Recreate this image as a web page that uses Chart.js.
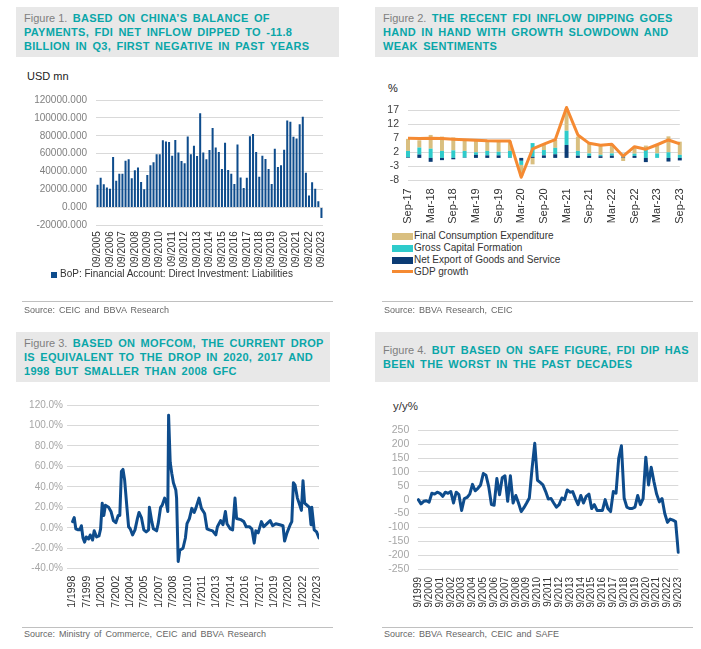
<!DOCTYPE html>
<html lang="en">
<head>
<meta charset="UTF-8">
<title>China FDI charts</title>
<script src="https://cdn.jsdelivr.net/npm/chart.js"></script>
<style>
  body { margin: 0; background: #fff; font-family: "Liberation Sans", Arial, sans-serif; }
  #page { position: relative; width: 701px; height: 649px; overflow: hidden; }
  .title { position: absolute; height: 50px; background: #e8e8e8; box-sizing: border-box; padding-left: 8px;
           display: flex; align-items: center; font-size: 11px; line-height: 14px; }
  .title .txt { color: #0aa6a8; font-weight: bold; letter-spacing: 0.3px; word-spacing: 2px; white-space: nowrap; }
  .title .fig { color: #7f7f7f; font-weight: normal; letter-spacing: 0; word-spacing: 0; }
  .box { position: absolute; }
  .unit { position: absolute; font-size: 11px; line-height: 13px; color: #222; white-space: nowrap; }
  .rule { position: absolute; height: 0; border-top: 1px solid #c0c0c0; }
  .source { position: absolute; font-size: 9px; line-height: 11px; color: #666; word-spacing: 1.5px; white-space: nowrap; }
  .legend { position: absolute; font-size: 10px; line-height: 12px; color: #333; white-space: nowrap; }
  .sw { position: absolute; }
</style>
</head>
<body>
<div id="page">
  <!-- Figure 1 -->
  <div class="title" style="left:16px;top:7px;width:323px">
    <div class="txt"><span class="fig">Figure 1.</span> BASED ON CHINA’S BALANCE OF<br>PAYMENTS, FDI NET INFLOW DIPPED TO -11.8<br>BILLION IN Q3, FIRST NEGATIVE IN PAST YEARS</div>
  </div>
  <div class="unit" style="left:27px;top:70px">USD mn</div>
  <div class="box" style="left:0;top:85px;width:340px;height:191px"><canvas id="c1"></canvas></div>
  <div class="sw" style="left:51px;top:272px;width:6px;height:6px;background:#0e4c8c"></div>
  <div class="legend" style="left:60px;top:268px">BoP: Financial Account: Direct Investment: Liabilities</div>
  <div class="rule" style="left:22px;top:301px;width:311px"></div>
  <div class="source" style="left:24px;top:305px">Source: CEIC and BBVA Research</div>

  <!-- Figure 2 -->
  <div class="title" style="left:375px;top:7px;width:323px">
    <div class="txt"><span class="fig">Figure 2.</span> THE RECENT FDI INFLOW DIPPING GOES<br>HAND IN HAND WITH GROWTH SLOWDOWN AND<br>WEAK SENTIMENTS</div>
  </div>
  <div class="unit" style="left:388px;top:82px">%</div>
  <div class="box" style="left:350px;top:95px;width:351px;height:135px"><canvas id="c2"></canvas></div>
  <div class="sw" style="left:392px;top:233px;width:21px;height:7px;background:#d9bf80"></div>
  <div class="legend" style="left:414px;top:230px">Final Consumption Expenditure</div>
  <div class="sw" style="left:392px;top:245px;width:21px;height:7px;background:#2ecbcb"></div>
  <div class="legend" style="left:414px;top:242px">Gross Capital Formation</div>
  <div class="sw" style="left:392px;top:257px;width:21px;height:7px;background:#0b3b74"></div>
  <div class="legend" style="left:414px;top:254px">Net Export of Goods and Service</div>
  <div class="sw" style="left:392px;top:270px;width:21px;height:3px;background:#f58a32"></div>
  <div class="legend" style="left:414px;top:266px">GDP growth</div>
  <div class="rule" style="left:382px;top:301px;width:311px"></div>
  <div class="source" style="left:384px;top:305px">Source: BBVA Research, CEIC</div>

  <!-- Figure 3 -->
  <div class="title" style="left:16px;top:332px;width:314px">
    <div class="txt"><span class="fig">Figure 3.</span> BASED ON MOFCOM, THE CURRENT DROP<br>IS EQUIVALENT TO THE DROP IN 2020, 2017 AND<br>1998 BUT SMALLER THAN 2008 GFC</div>
  </div>
  <div class="box" style="left:0;top:395px;width:340px;height:225px"><canvas id="c3"></canvas></div>
  <div class="rule" style="left:22px;top:627px;width:311px"></div>
  <div class="source" style="left:24px;top:629px">Source: Ministry of Commerce, CEIC and BBVA Research</div>

  <!-- Figure 4 -->
  <div class="title" style="left:375px;top:332px;width:323px">
    <div class="txt"><span class="fig">Figure 4.</span> BUT BASED ON SAFE FIGURE, FDI DIP HAS<br>BEEN THE WORST IN THE PAST DECADES</div>
  </div>
  <div class="unit" style="left:393px;top:400px;font-size:11.5px;color:#333">y/y%</div>
  <div class="box" style="left:350px;top:415px;width:351px;height:205px"><canvas id="c4"></canvas></div>
  <div class="rule" style="left:382px;top:627px;width:311px"></div>
  <div class="source" style="left:384px;top:629px">Source: BBVA Research, CEIC and SAFE</div>
</div>

<script>
// ---- Figure 1: BoP FDI liabilities, quarterly, USD mn ----
const fig1Start = 2005;   // first quarter is 09/2005
const fig1Values = [
  25300, 33100, 26000, 22200, 20800, 56300, 29900, 37700, 37700, 52100,
  53900, 32700, 41500, 44700, 28500, 20400, 36300, 47200, 50400, 59500,
  59500, 75000, 73600, 73200, 57700, 75400, 61300, 51800, 49300, 79200,
  59500, 69000, 57400, 105300, 61300, 53900, 64100, 88700, 66900, 62000,
  43000, 72200, 41900, 37700, 26100, 70400, 33500, 21800, 33100, 79600,
  82000, 62000, 34200, 57700, 54200, 43000, 26100, 65500, 45100, 47200,
  64400, 97200, 95800, 78900, 77100, 93000, 101400, 38700, 13400, 28200,
  20800, 7000, -11800
];

// ---- Figure 2: contributions to GDP growth, pp ----
const fig2Consumption = [4.3, 2.6, 4.9, 5.1, 4.6, 3.8, 4.1, 3.3, 3.5, 3.4, -4.0, -2.3, 2.1,
                         2.8, 7.9, 5.1, 3.6, 3.3, 3.2, -1.1, 2.5, 0.8, 2.9, 5.7, 4.7];
const fig2Capital     = [2.3, 2.5, 3.3, 2.5, 2.7, 2.4, 0.9, 1.6, 1.3, 2.4, -1.5, 4.9, 1.9,
                         2.3, 5.1, 1.7, 0.9, 0.5, 0.8, 1.3, 0.8, 3.6, 1.6, 2.0, 1.1];
const fig2NetExport   = [0.2, 1.2, -1.4, -0.8, -0.5, 0.1, 1.1, 0.9, 0.9, 0.1, -1.0, 0.4, 0.9,
                         1.3, 4.6, 0.8, 0.7, 0.6, 0.8, 0.2, 0.7, -1.5, 0.0, -1.3, -0.9];
const fig2Gdp         = [7.0, 6.9, 7.0, 6.9, 6.7, 6.5, 6.3, 6.1, 6.0, 6.0, -6.9, 3.2, 4.9,
                         6.5, 18.0, 8.2, 5.2, 4.5, 4.9, 0.6, 4.0, 3.1, 4.7, 6.4, 5.0];
const fig2YTicks = [17, 12, 7, 2, -3, -8];

// ---- Figure 3: MOFCOM FDI, ytd y/y % ----
const fig3Dates = [
  '1998-01','1998-03','1998-05','1998-08','1998-10','1998-12','1999-02','1999-04','1999-06','1999-09',
  '1999-11','2000-02','2000-04','2000-07','2000-10','2000-12','2001-02','2001-04','2001-06','2001-10',
  '2002-01','2002-04','2002-07','2002-10','2002-12','2003-02','2003-04','2003-06','2003-09','2003-11',
  '2004-01','2004-04','2004-07','2004-10','2004-12','2005-03','2005-06','2005-09','2005-12','2006-01',
  '2006-04','2006-06','2006-10','2006-12','2007-03','2007-05','2007-08','2007-10','2007-12','2008-01',
  '2008-03','2008-05','2008-07','2008-10','2008-11','2009-01','2009-03','2009-07','2009-10','2009-12',
  '2010-03','2010-06','2010-09','2010-11','2011-03','2011-06','2011-10','2012-01','2012-04','2012-08',
  '2012-12','2013-02','2013-06','2013-09','2013-12','2014-02','2014-06','2014-09','2014-12','2015-02',
  '2015-07','2015-11','2016-02','2016-06','2016-09','2016-12','2017-02','2017-05','2017-09','2017-12',
  '2018-04','2018-08','2018-11','2019-03','2019-08','2019-12','2020-02','2020-05','2020-09','2020-11',
  '2021-01','2021-03','2021-06','2021-09','2021-11','2022-01','2022-03','2022-06','2022-09','2022-11',
  '2022-12','2023-03','2023-06','2023-09'
];
const fig3Values = [
  6, 10, -1, -2, -2, 2, -10, -14, -9, -11,
  -7, -12, -3, -9, -8, -1, 24, 12, 22, 20,
  16, 7, 5, 12, 12, 55, 57, 47, 19, 1,
  -1, -7, -2, 9, 15, 10, -2, -4, -2, 20,
  6, -1, -3, 4, 20, 22, 29, 25, 16, 110,
  64, 53, 44, 37, 29, -33, -22, -20, -10, 4,
  9, 19, 15, 19, 29, 19, 14, -1, -2, -3,
  -7, 1, 7, 3, 16, 4, -1, -2, 29, 9,
  8, 6, 1, 1, -1, -15, -3, -5, 6, 1,
  4, 7, 2, 4, 3, 2, -13, -5, 3, 6,
  44, 42, 29, 22, 17, 46, 24, 22, 20, 3,
  20, -2, -4, -10
];
const fig3TickLabels = ['1/1998','7/1999','1/2001','7/2002','1/2004','7/2005','1/2007','7/2008','1/2010',
                        '7/2011','1/2013','7/2014','1/2016','7/2017','1/2019','7/2020','1/2022','7/2023'];

// ---- Figure 4: SAFE FDI, y/y % quarterly ----
const fig4Start = 1999;   // first quarter is 9/1999
const fig4Values = [
  0, -15, -6, -4, -9, 23, 20, 27, 23, 12,
  27, 23, 29, -12, 27, 18, -39, 4, 8, 20,
  55, 32, 41, 53, 94, 88, 47, -18, -20, 76,
  18, 79, 86, -6, 86, -12, 15, -12, -43, -29,
  -12, 6, 112, 203, 70, 62, 53, 30, 2, 4,
  -12, -27, -18, 6, 0, 35, 27, 29, 4, -18,
  15, -12, 12, 20, -32, -18, -39, -39, -39, 0,
  -32, -43, 29, 23, 149, 194, 6, -27, -32, -32,
  -27, 15, -18, 4, 153, 53, 117, 65, 20, -8,
  4, -50, -82, -70, -74, -79, -190
];

const NAVY = '#0e4c8c';
const GRID = '#d9d9d9';

Chart.defaults.font.family = '"Liberation Sans", Arial, sans-serif';
Chart.defaults.animation = false;

// quarter labels starting at September of startYear
function quarterLabels(startYear, count, fmt) {
  const out = [];
  const months = [9, 12, 3, 6];
  for (let k = 0; k < count; k++) {
    out.push(fmt(months[k % 4], startYear + Math.floor((k + 2) / 4)));
  }
  return out;
}
function monthIndex(y, m) { return (y - 1998) * 12 + (m - 1); }

const fig1Labels = quarterLabels(fig1Start, fig1Values.length,
  (m, y) => String(m).padStart(2, '0') + '/' + y);
const fig2Labels = quarterLabels(2017, fig2Gdp.length,
  (m, y) => ['', '', '', 'Mar', '', '', 'Jun', '', '', 'Sep', '', '', 'Dec'][m] + '-' + String(y).slice(2));
const fig4Labels = quarterLabels(fig4Start, fig4Values.length, (m, y) => m + '/' + y);

const noPlugins = { legend: { display: false }, tooltip: { enabled: false } };
const everyNth = n => function (v, i) { return i % n === 0 ? this.getLabelForValue(v) : ''; };

// Figure 1
new Chart(document.getElementById('c1'), {
  type: 'bar',
  data: {
    labels: fig1Labels,
    datasets: [{ data: fig1Values, backgroundColor: NAVY, barPercentage: 0.65, categoryPercentage: 1 }]
  },
  options: {
    responsive: true, maintainAspectRatio: false,
    layout: { padding: { left: 0, right: 17, top: 8.3, bottom: 0 } },
    plugins: noPlugins,
    scales: {
      x: {
        grid: { display: false, drawTicks: false }, border: { display: false },
        ticks: { autoSkip: false, minRotation: 90, maxRotation: 90, padding: 6, color: '#333',
                 font: { size: 10 }, callback: everyNth(4) },
        afterFit: s => { s.height = 50.7; }
      },
      y: {
        min: -20000, max: 120000,
        ticks: { stepSize: 20000, autoSkip: false, padding: 9, color: '#7f7f7f', font: { size: 10 },
                 callback: v => v.toFixed(3) },
        grid: { color: GRID, drawTicks: false }, border: { display: false },
        afterFit: s => { s.width = 96; }
      }
    }
  }
});

// Figure 2
new Chart(document.getElementById('c2'), {
  data: {
    labels: fig2Labels,
    datasets: [
      { type: 'line', data: fig2Gdp, borderColor: '#f58a32', borderWidth: 3, pointRadius: 0,
        order: 0, stack: 'gdp', clip: false, borderJoinStyle: 'round' },
      { type: 'bar', data: fig2NetExport, backgroundColor: '#0b3b74', order: 1, clip: false,
        barPercentage: 0.35, categoryPercentage: 1 },
      { type: 'bar', data: fig2Capital, backgroundColor: '#2ecbcb', order: 1, clip: false,
        barPercentage: 0.35, categoryPercentage: 1 },
      { type: 'bar', data: fig2Consumption, backgroundColor: '#d9bf80', order: 1, clip: false,
        barPercentage: 0.35, categoryPercentage: 1 }
    ]
  },
  options: {
    responsive: true, maintainAspectRatio: false,
    layout: { padding: { left: 0, right: 18, top: 7.7, bottom: 0 } },
    plugins: noPlugins,
    scales: {
      x: {
        stacked: true, offset: false,
        grid: { display: false, drawTicks: false }, border: { display: false },
        ticks: { autoSkip: false, minRotation: 90, maxRotation: 90, padding: 8, color: '#333',
                 font: { size: 11 }, callback: everyNth(2) },
        afterFit: s => { s.height = 49.7; }
      },
      y: {
        stacked: true, min: -8, max: 17,
        afterBuildTicks: s => { s.ticks = fig2YTicks.map(v => ({ value: v })); },
        ticks: { autoSkip: false, padding: 9, color: '#404040', font: { size: 10.5 } },
        grid: { color: GRID, drawTicks: false }, border: { display: false },
        afterFit: s => { s.width = 58; }
      }
    }
  }
});

// Figure 3
const fig3Points = fig3Dates.map((d, i) => {
  const [y, m] = d.split('-').map(Number);
  return { x: monthIndex(y, m), y: fig3Values[i] };
});
const fig3TickMonths = fig3TickLabels.map(t => {
  const [m, y] = t.split('/').map(Number);
  return monthIndex(y, m);
});
new Chart(document.getElementById('c3'), {
  type: 'line',
  data: {
    datasets: [{ data: fig3Points, borderColor: NAVY, borderWidth: 3, pointRadius: 0,
                 borderJoinStyle: 'round', borderCapStyle: 'round' }]
  },
  options: {
    responsive: true, maintainAspectRatio: false,
    layout: { padding: { left: 0, right: 21, top: 9.7, bottom: 0 } },
    plugins: noPlugins,
    scales: {
      x: {
        type: 'linear', min: -7, max: 308,
        afterBuildTicks: s => { s.ticks = fig3TickMonths.map(v => ({ value: v })); },
        grid: { display: false, drawTicks: false }, border: { display: false },
        ticks: { autoSkip: false, minRotation: 90, maxRotation: 90, padding: 7, color: '#333', font: { size: 10.5 },
                 callback: v => fig3TickLabels[fig3TickMonths.indexOf(v)] },
        afterFit: s => { s.height = 51.3; }
      },
      y: {
        min: -40, max: 120,
        ticks: { stepSize: 20, autoSkip: false, padding: 4, color: '#a6a6a6', font: { size: 10 },
                 callback: v => v.toFixed(1) + '%' },
        grid: { color: GRID, drawTicks: false }, border: { display: false },
        afterFit: s => { s.width = 67; }
      }
    }
  }
});

// Figure 4
new Chart(document.getElementById('c4'), {
  type: 'line',
  data: {
    labels: fig4Labels,
    datasets: [{ data: fig4Values, borderColor: NAVY, borderWidth: 3, pointRadius: 0,
                 borderJoinStyle: 'round', borderCapStyle: 'round' }]
  },
  options: {
    responsive: true, maintainAspectRatio: false,
    layout: { padding: { left: 0, right: 22.7, top: 12.3, bottom: 0 } },
    plugins: noPlugins,
    scales: {
      x: {
        offset: false,
        grid: { display: false, drawTicks: false }, border: { display: false },
        ticks: { autoSkip: false, minRotation: 90, maxRotation: 90, padding: 8, color: '#333',
                 font: { size: 10 }, callback: everyNth(4) },
        afterFit: s => { s.height = 51; }
      },
      y: {
        min: -250, max: 250,
        ticks: { stepSize: 50, autoSkip: false, padding: 9, color: '#a6a6a6', font: { size: 10.5 } },
        grid: { color: GRID, drawTicks: false }, border: { display: false },
        afterFit: s => { s.width = 68.3; }
      }
    }
  }
});
</script>
</body>
</html>
